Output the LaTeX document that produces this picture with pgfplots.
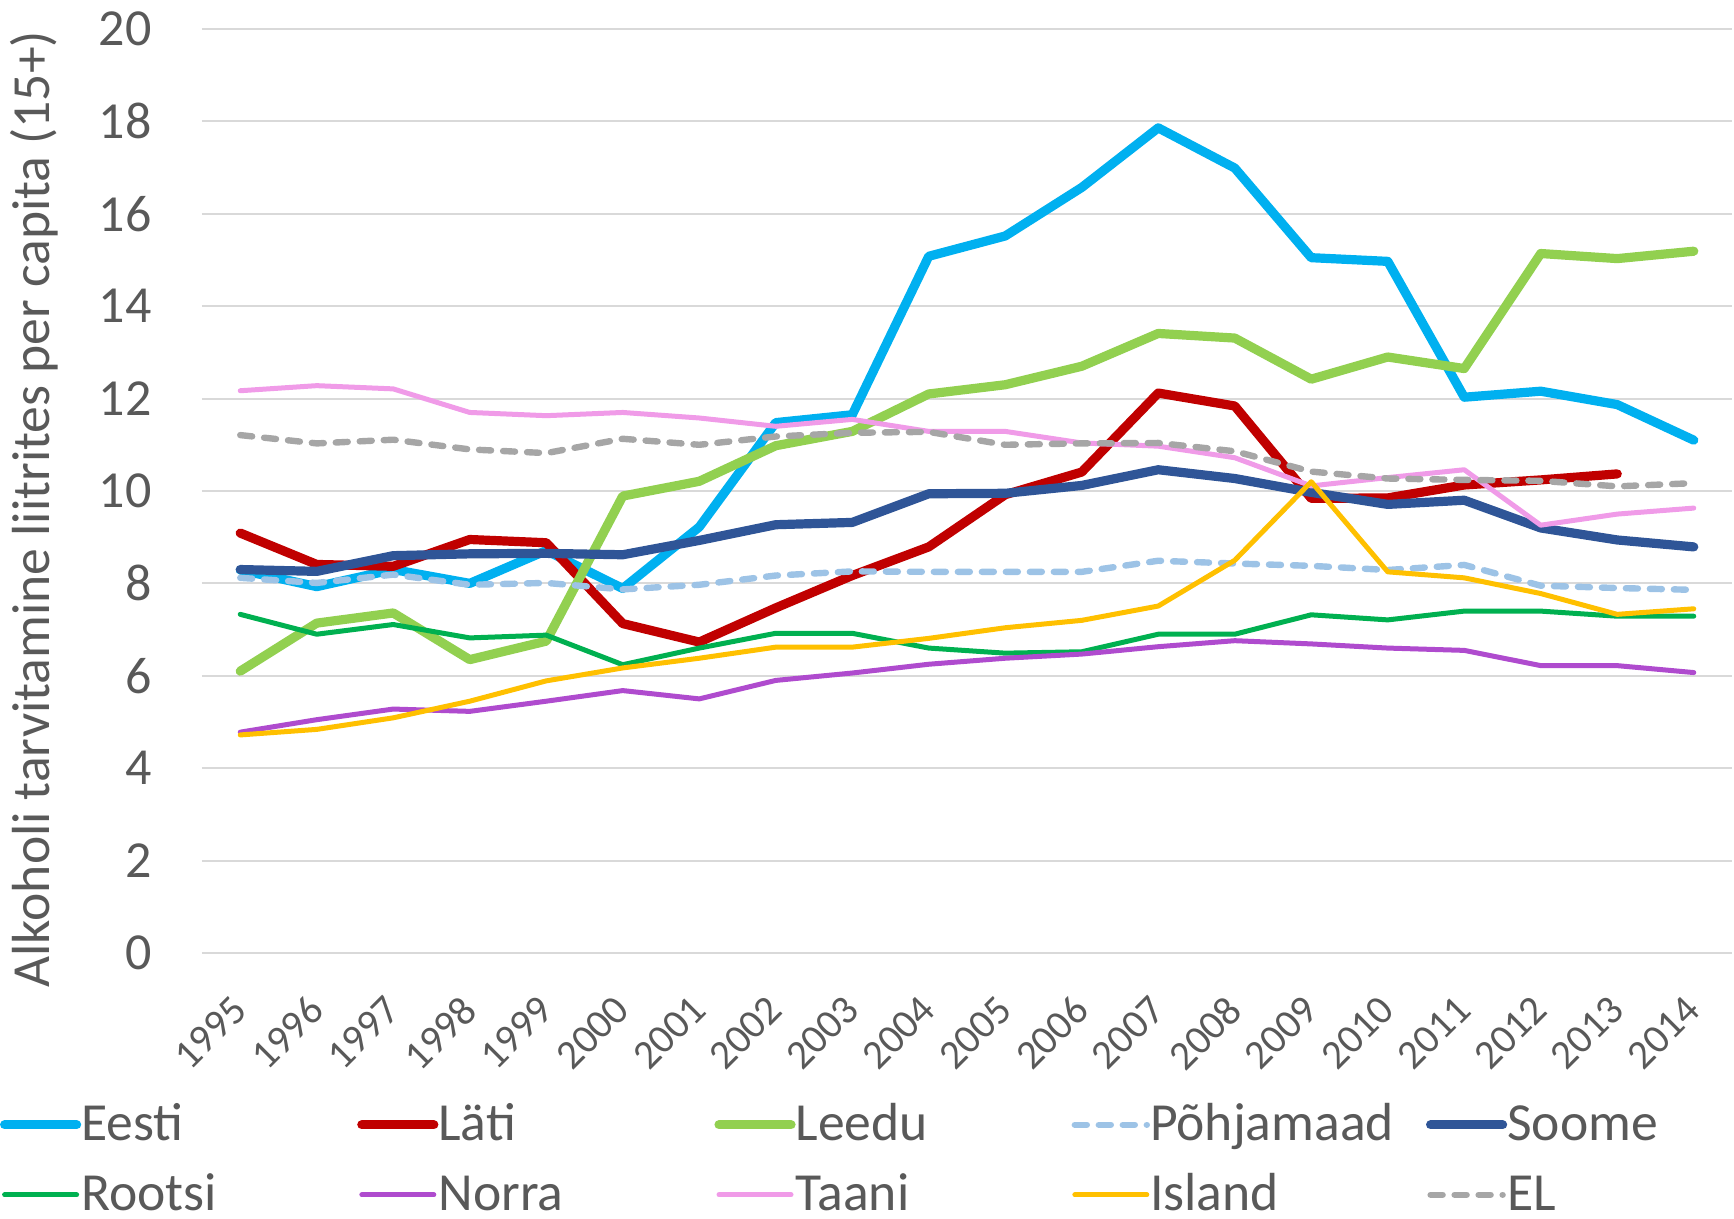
\documentclass[border=0pt]{standalone}
\usepackage{pgfplots}
\usepackage{pgfplotstable}
\usepackage{fontspec}
\setmainfont{Carlito}
\pgfplotsset{compat=1.18}
\definecolor{cEesti}{HTML}{00B0F0}
\definecolor{cLati}{HTML}{C00000}
\definecolor{cLeedu}{HTML}{92D050}
\definecolor{cPohja}{HTML}{9DC3E6}
\definecolor{cSoome}{HTML}{2F5597}
\definecolor{cRootsi}{HTML}{00B050}
\definecolor{cNorra}{HTML}{AF4BCE}
\definecolor{cTaani}{HTML}{F09BE8}
\definecolor{cIsland}{HTML}{FFC000}
\definecolor{cEL}{HTML}{A6A6A6}
\definecolor{textgray}{HTML}{595959}
\definecolor{gridgray}{HTML}{D9D9D9}
\pgfplotstableread{
Year Eesti Lati Leedu Pohja Soome Rootsi Norra Taani Island EL
1995 8.29 9.09 6.10 8.12 8.30 7.33 4.78 12.17 4.72 11.21
1996 7.93 8.41 7.14 8.01 8.26 6.90 5.05 12.28 4.84 11.03
1997 8.30 8.37 7.36 8.19 8.60 7.11 5.28 12.21 5.09 11.11
1998 8.00 8.95 6.35 7.97 8.64 6.82 5.23 11.70 5.45 10.90
1999 8.71 8.88 6.75 8.01 8.65 6.88 5.45 11.63 5.89 10.82
2000 7.89 7.13 9.89 7.87 8.62 6.24 5.68 11.70 6.17 11.13
2001 9.22 6.73 10.21 7.97 8.93 6.60 5.50 11.58 6.38 11.00
2002 11.48 7.47 10.98 8.17 9.27 6.92 5.90 11.40 6.62 11.18
2003 11.65 8.17 11.29 8.26 9.32 6.92 6.06 11.55 6.62 11.26
2004 15.08 8.79 12.10 8.25 9.94 6.60 6.25 11.29 6.81 11.28
2005 15.52 9.92 12.30 8.25 9.95 6.49 6.38 11.29 7.04 11.00
2006 16.57 10.41 12.70 8.25 10.12 6.52 6.47 11.04 7.20 11.03
2007 17.86 12.12 13.41 8.49 10.46 6.90 6.63 10.97 7.51 11.04
2008 16.99 11.84 13.31 8.43 10.27 6.90 6.76 10.72 8.50 10.86
2009 15.05 9.84 12.42 8.38 9.97 7.32 6.69 10.11 10.20 10.42
2010 14.97 9.85 12.90 8.29 9.71 7.21 6.60 10.29 8.25 10.27
2011 12.03 10.13 12.65 8.40 9.80 7.40 6.55 10.46 8.12 10.24
2012 12.16 10.24 15.14 7.95 9.20 7.40 6.22 9.26 7.78 10.22
2013 11.87 10.37 15.03 7.90 8.94 7.29 6.22 9.50 7.33 10.10
2014 11.10 nan 15.19 7.86 8.79 7.29 6.07 9.63 7.45 10.17
}\datatable
\begin{document}
\begin{tikzpicture}[font=\fontsize{26}{31}\selectfont]
\path[use as bounding box] (-101pt,-133pt) rectangle (766pt,476.5pt);
\begin{axis}[
  at={(0pt,0pt)}, anchor=south west,
  scale only axis, width=765pt, height=462pt,
  xmin=1994.5, xmax=2014.5, ymin=0, ymax=20,
  xtick={1995,...,2014}, ytick={0,2,...,20},
  ymajorgrids, grid style={draw=gridgray, line width=1pt},
  axis line style={draw=none}, tick style={draw=none},
  /pgf/number format/assume math mode=true,
  xticklabel style={/pgf/number format/1000 sep={}, font=\fontsize{20.5}{24}\selectfont, xshift=-5.1pt, yshift=-20pt, rotate=45, anchor=north east, inner sep=0pt, text=textgray},
  yticklabel style={anchor=east, inner sep=0pt, xshift=-25pt, text=textgray},
  ylabel={Alkoholi tarvitamine liitrites per capita (15+)},
  ylabel style={font=\fontsize{26.8}{32}\selectfont, at={(axis description cs:-0.1098,0.4805)}, anchor=center, text=textgray},
  legend columns=5,
  legend cell align=left,
  legend image code/.code={\draw[#1] (0pt,8pt) -- (36pt,8pt);},
  legend style={draw=none, fill=none, inner sep=0pt, outer sep=0pt,
    at={(axis description cs:-0.1320,-0.1643)}, anchor=north west,
    row sep=17pt, font=\fontsize{26.8}{32}\selectfont,
    /tikz/every even column/.append style={column sep=0pt},
    nodes={text=textgray, text width=138pt, text height=18pt, text depth=0pt, inner ysep=0pt, inner xsep=0pt, anchor=base west}},
  every axis plot/.append style={line join=round, line cap=round},
]
\addplot[cEesti, line width=4.6pt] table[x=Year, y=Eesti] {\datatable};
\addlegendentry{Eesti}
\addplot[cLati, line width=4.6pt] table[x=Year, y=Lati] {\datatable};
\addlegendentry{Läti}
\addplot[cLeedu, line width=4.6pt] table[x=Year, y=Leedu] {\datatable};
\addlegendentry{Leedu}
\addplot[cPohja, line width=3.2pt, dash pattern=on 6pt off 6pt] table[x=Year, y=Pohja] {\datatable};
\addlegendentry{Põhjamaad}
\addplot[cSoome, line width=4.6pt] table[x=Year, y=Soome] {\datatable};
\addlegendentry{Soome}
\addplot[cRootsi, line width=2.5pt] table[x=Year, y=Rootsi] {\datatable};
\addlegendentry{Rootsi}
\addplot[cNorra, line width=2.5pt] table[x=Year, y=Norra] {\datatable};
\addlegendentry{Norra}
\addplot[cTaani, line width=2.5pt] table[x=Year, y=Taani] {\datatable};
\addlegendentry{Taani}
\addplot[cIsland, line width=2.5pt] table[x=Year, y=Island] {\datatable};
\addlegendentry{Island}
\addplot[cEL, line width=3.2pt, dash pattern=on 6pt off 6pt] table[x=Year, y=EL] {\datatable};
\addlegendentry{EL}
\end{axis}
\end{tikzpicture}
\end{document}
